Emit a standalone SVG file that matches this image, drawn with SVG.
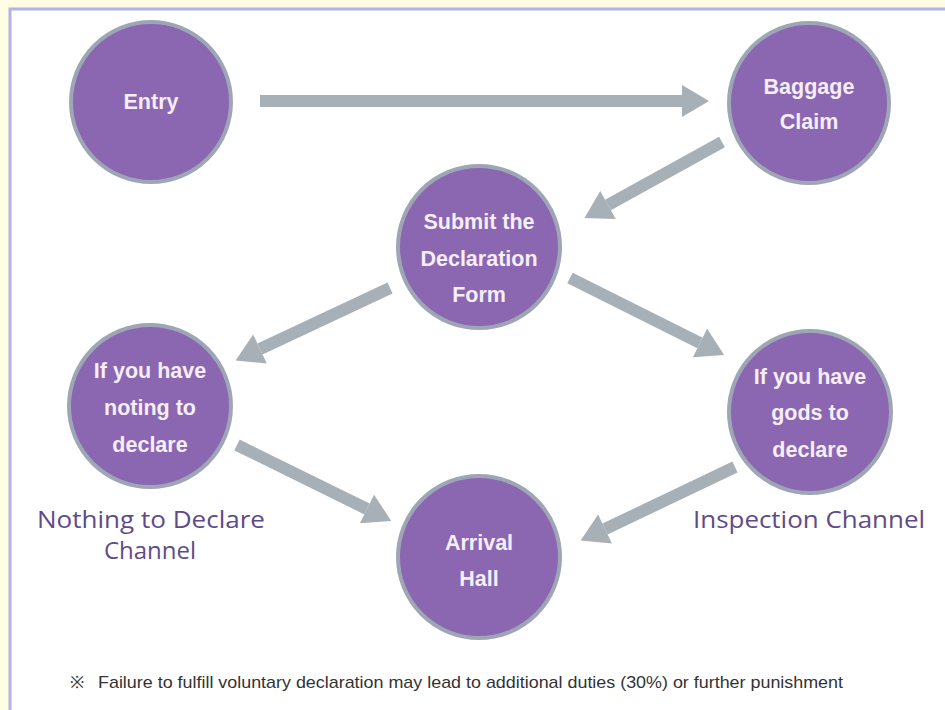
<svg xmlns="http://www.w3.org/2000/svg" width="945" height="710" viewBox="0 0 945 710">
<defs>
<style>
.node circle{fill:#8a67b0;stroke:#9ea6b6;stroke-width:4}
.node text{font-family:"Liberation Sans",Arial,sans-serif;font-size:21.5px;font-weight:bold;fill:#f6eefb;text-anchor:middle}
.conn line{stroke:#a7afb7;stroke-width:12}
.lbl{font-family:"Open Sans","Noto Sans",sans-serif;font-size:24px;fill:#5f4b8b}
.note{font-family:"Liberation Sans",Arial,sans-serif;font-size:17px;fill:#333}
</style>
<marker id="ah" markerUnits="userSpaceOnUse" markerWidth="27" markerHeight="32" refX="0" refY="16" orient="auto" overflow="visible">
<path d="M0,0 L27,16 L0,32 Z" fill="#a7afb7"/>
</marker>
</defs>
<rect x="0" y="0" width="945" height="710" fill="#fffde3"/>
<rect x="10" y="9" width="935" height="701" fill="#ffffff"/>
<path d="M10,710 L10,9 L945,9" fill="none" stroke="#b4b2ea" stroke-width="3"/>
<g class="conn" id="connectors">
<line x1="260" y1="101" x2="682" y2="101" marker-end="url(#ah)"/>
<line x1="722" y1="142" x2="608" y2="205" marker-end="url(#ah)"/>
<line x1="390" y1="288" x2="260" y2="349" marker-end="url(#ah)"/>
<line x1="570" y1="278" x2="700" y2="343" marker-end="url(#ah)"/>
<line x1="237" y1="445" x2="367" y2="509" marker-end="url(#ah)"/>
<line x1="735" y1="467" x2="605" y2="529" marker-end="url(#ah)"/>
</g>
<g class="node" id="entry"><circle cx="151" cy="102" r="80"/><text x="151" y="109">Entry</text></g>
<g class="node" id="baggage"><circle cx="809" cy="103" r="80"/><text x="809" y="94">Baggage</text><text x="809" y="129">Claim</text></g>
<g class="node" id="submit"><circle cx="479" cy="247" r="81"/><text x="479" y="229">Submit the</text><text x="479" y="266">Declaration</text><text x="479" y="302">Form</text></g>
<g class="node" id="nothing"><circle cx="150" cy="406" r="81"/><text x="150" y="378">If you have</text><text x="150" y="415">noting to</text><text x="150" y="452">declare</text></g>
<g class="node" id="goods"><circle cx="810" cy="412" r="81"/><text x="810" y="384">If you have</text><text x="810" y="420">gods to</text><text x="810" y="457">declare</text></g>
<g class="node" id="arrival"><circle cx="479" cy="557" r="81"/><text x="479" y="550">Arrival</text><text x="479" y="586">Hall</text></g>
<text class="lbl" x="37" y="528" textLength="228" lengthAdjust="spacingAndGlyphs">Nothing to Declare</text>
<text class="lbl" x="150" y="559" text-anchor="middle">Channel</text>
<text class="lbl" x="693" y="528" textLength="232" lengthAdjust="spacingAndGlyphs">Inspection Channel</text>
<text class="note" x="70" y="688">※</text>
<text class="note" x="98" y="688" textLength="745" lengthAdjust="spacingAndGlyphs">Failure to fulfill voluntary declaration may lead to additional duties (30%) or further punishment</text>
</svg>
